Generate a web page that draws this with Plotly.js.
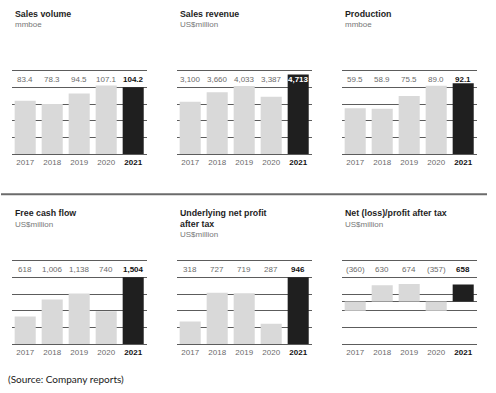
<!DOCTYPE html>
<html>
<head>
<meta charset="utf-8">
<script src="https://cdn.plot.ly/plotly-3.0.1.min.js"></script>
<style>
html,body{margin:0;padding:0;background:#fff;}
#chart{width:496px;height:393px;}
</style>
</head>
<body>
<div id="chart"></div>
<script>
// ---- data ----
const years = ['2017', '2018', '2019', '2020', '2021'];
const titles = ['Sales volume', 'Sales revenue', 'Production', 'Free cash flow', 'Underlying net profit\nafter tax', 'Net (loss)/profit after tax'];
const units = ['mmboe', 'US$million', 'mmboe', 'US$million', 'US$million', 'US$million'];
const salesVolume = [83.4, 78.3, 94.5, 107.1, 104.2];
const salesRevenue = [3100, 3660, 4033, 3387, 4713];
const production = [59.5, 58.9, 75.5, 89.0, 92.1];
const freeCashFlow = [618, 1006, 1138, 740, 1504];
const underlyingProfit = [318, 727, 719, 287, 946];
const netProfit = [-360, 630, 674, -357, 658];
const decimals = [1, 0, 1, 0, 0, 0];
const sourceNote = '(Source: Company reports)';

const series = [salesVolume, salesRevenue, production, freeCashFlow, underlyingProfit, netProfit];

// ---- layout config (axis scale per panel: lower bound and band size) ----
const W = 496, H = 393;
const axisLow = [0, 0, 0, 0, 0, -1637];
const axisStep = [26.05, 987, 21.7, 376, 236.5, 642];

const GRID = '#5c5c5c';
const GREY_TXT = '#6b6b6b';
const FONT = 'Liberation Sans, Arial, sans-serif';

function fmt(v, d) {
  const s = Math.abs(v).toLocaleString('en-US', {minimumFractionDigits: d, maximumFractionDigits: d});
  return v < 0 ? '(' + s + ')' : s;
}

const data = [];
const layout = {
  width: W, height: H,
  margin: {l: 0, r: 0, t: 0, b: 0},
  paper_bgcolor: '#fff', plot_bgcolor: 'rgba(0,0,0,0)',
  showlegend: false,
  bargap: 0.22,
  annotations: [],
  shapes: [],
  font: {family: FONT}
};

series.forEach((vals, i) => {
  const col = i % 3, row = Math.floor(i / 3);
  const xl = 11.7 + col * 165, xr = xl + 135;
  const top = row ? 260.7 : 70.7, bot = top + 83.3;
  const sfx = i === 0 ? '' : String(i + 1);
  const xa = 'x' + sfx, ya = 'y' + sfx;
  const last = vals.length - 1;
  const lo = axisLow[i], d = axisStep[i];

  data.push({
    type: 'bar', x: years, y: vals, xaxis: xa, yaxis: ya,
    marker: {color: vals.map((v, k) => k === last ? '#1f1f1f' : '#d9d9d9'), line: {width: 0}},
    hoverinfo: 'x+y'
  });

  layout['xaxis' + sfx] = {
    domain: [xl / W, xr / W], anchor: ya, type: 'category',
    range: [-0.5, years.length - 0.5], autorange: false,
    showgrid: false, zeroline: false,
    showline: true, mirror: true, linecolor: GRID, linewidth: 1,
    ticks: '', tickvals: years, tickangle: 0,
    ticktext: years.map((y, k) => k === last ? '<b><span style="color:#111">' + y + '</span></b>' : y),
    tickfont: {family: FONT, size: 8, color: GREY_TXT},
    fixedrange: true
  };
  layout['yaxis' + sfx] = {
    domain: [1 - bot / H, 1 - top / H], anchor: xa,
    range: [lo, lo + 5 * d], autorange: false, tick0: lo, dtick: d,
    showgrid: true, gridcolor: GRID, gridwidth: 1,
    zeroline: lo < 0, zerolinecolor: GRID, zerolinewidth: 1,
    showticklabels: false, ticks: '', showline: false, fixedrange: true
  };

  // value labels in the top band
  vals.forEach((v, k) => {
    const isLast = k === last;
    const reaches = (v - lo) / d > 4.5;
    layout.annotations.push({
      xref: xa, yref: ya + ' domain', x: k, y: 0.9,
      xanchor: 'center', yanchor: 'middle', showarrow: false,
      text: isLast ? '<b>' + fmt(v, decimals[i]) + '</b>' : fmt(v, decimals[i]),
      font: {family: FONT, size: 8, color: isLast ? (reaches ? '#ffffff' : '#111111') : GREY_TXT}
    });
  });

  // titles
  const lines = titles[i].split('\n');
  const ty = row ? 213.3 : 14;
  lines.forEach((ln, j) => {
    layout.annotations.push({
      xref: 'paper', yref: 'paper', x: (xl + 0.8) / W, y: 1 - (ty + j * 10.2) / H,
      xanchor: 'left', yanchor: 'middle', showarrow: false,
      text: '<b>' + ln + '</b>',
      font: {family: FONT, size: 8.8, color: '#1e1e1e'}
    });
  });
  layout.annotations.push({
    xref: 'paper', yref: 'paper', x: (xl + 0.8) / W, y: 1 - (ty + lines.length * 10.4 + 0.4) / H,
    xanchor: 'left', yanchor: 'middle', showarrow: false,
    text: units[i],
    font: {family: FONT, size: 8, color: '#777777'}
  });
});

// separator line between rows
layout.shapes.push({
  type: 'line', xref: 'paper', yref: 'paper',
  x0: 1 / W, x1: 487 / W, y0: 1 - 194.3 / H, y1: 1 - 194.3 / H,
  line: {color: '#6b6b6b', width: 2}
});

// source note
layout.annotations.push({
  xref: 'paper', yref: 'paper', x: 6 / W, y: 1 - 378.5 / H,
  xanchor: 'left', yanchor: 'middle', showarrow: false,
  text: sourceNote,
  font: {family: 'Lato, Carlito, sans-serif', size: 10, color: '#1a1a1a'}
});

Plotly.newPlot('chart', data, layout, {displayModeBar: false, staticPlot: true});
</script>
</body>
</html>
